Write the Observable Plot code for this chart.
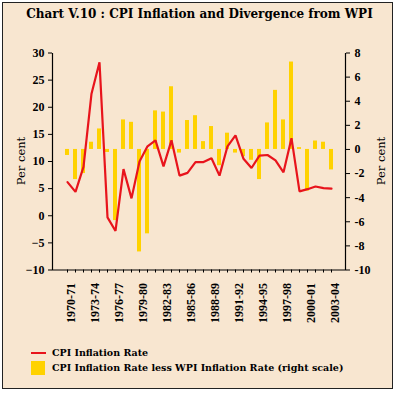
<!DOCTYPE html>
<html>
<head>
<meta charset="utf-8">
<script src="https://cdn.jsdelivr.net/npm/d3@7"></script>
<script src="https://cdn.jsdelivr.net/npm/@observablehq/plot@0.6"></script>
<style>
  html, body { margin: 0; padding: 0; background: #ffffff; }
  #wrap { position: relative; width: 395px; height: 394px; overflow: hidden; background: #ffffff; }
  #frame { position: absolute; left: 2px; top: 2px; width: 391px; height: 387px; border: 1px solid #222; background: #f8e6d0; box-sizing: border-box; }
  #title { position: absolute; left: 0; width: 399px; top: 7px; text-align: center; font-family: "DejaVu Serif"; font-weight: bold; font-size: 12px; color: #000; white-space: nowrap; }
  #chart { position: absolute; left: 0; top: 0; }
  .ylab { position: absolute; font-family: "DejaVu Serif"; font-size: 11.5px; color: #000; white-space: nowrap; transform: translate(-50%, -50%) rotate(-90deg); }
  .leg { position: absolute; font-family: "DejaVu Serif"; font-weight: bold; font-size: 9.5px; color: #000; white-space: nowrap; }
</style>
</head>
<body>
<div id="wrap">
  <div id="frame"></div>
  <div id="title">Chart V.10 : CPI Inflation and Divergence from WPI</div>
  <div id="chart"></div>
  <div class="ylab" style="left:21px; top:161px;">Per cent</div>
  <div class="ylab" style="left:381px; top:161px;">Per cent</div>
  <div id="legend"></div>
</div>
<script>
const years = ["1970-71","1971-72","1972-73","1973-74","1974-75","1975-76","1976-77","1977-78","1978-79","1979-80",
  "1980-81","1981-82","1982-83","1983-84","1984-85","1985-86","1986-87","1987-88","1988-89","1989-90",
  "1990-91","1991-92","1992-93","1993-94","1994-95","1995-96","1996-97","1997-98","1998-99","1999-00",
  "2000-01","2001-02","2002-03","2003-04"];
// CPI inflation rate (left scale, per cent)
const cpi = [6.2, 4.4, 9.0, 22.5, 28.3, -0.3, -2.8, 8.6, 3.2, 10.0,
  12.8, 13.9, 9.1, 13.9, 7.4, 7.9, 9.9, 9.9, 10.6, 7.4,
  12.8, 14.8, 10.5, 8.8, 11.1, 11.2, 10.2, 8.0, 14.3, 4.5,
  4.9, 5.4, 5.1, 5.0];
// CPI inflation less WPI inflation (right scale, per cent)
const diff = [-0.5, -2.5, -2.0, 0.6, 1.7, -0.25, -5.9, 2.45, 2.25, -8.5,
  -7.0, 3.2, 3.1, 5.2, -0.3, 2.4, 2.8, 0.65, 1.9, -1.35,
  1.35, -0.3, -0.6, -0.9, -2.5, 2.2, 4.9, 2.45, 7.25, 0.15,
  -3.45, 0.7, 0.6, -1.7];
const xLabels = ["1970-71","1973-74","1976-77","1979-80","1982-83","1985-86","1988-89","1991-92","1994-95","1997-98","2000-01","2003-04"];
const leftTicks = [-10, -5, 0, 5, 10, 15, 20, 25, 30];
const rightTicks = [-10, -8, -6, -4, -2, 0, 2, 4, 6, 8];
const leftDomain = [-10, 30];
const rightDomain = [-10, 8];

const seriesNames = ["CPI Inflation Rate", "CPI Inflation Rate less WPI Inflation Rate (right scale)"];
const colors = ["#e8141c", "#ffd200"];

// map right-scale values onto the left scale
const toLeft = r => leftDomain[0] + (r - rightDomain[0]) * (leftDomain[1] - leftDomain[0]) / (rightDomain[1] - rightDomain[0]);
const fromLeft = l => rightDomain[0] + (l - leftDomain[0]) * (rightDomain[1] - rightDomain[0]) / (leftDomain[1] - leftDomain[0]);

const rows = years.map((y, i) => ({year: y, cpi: cpi[i], diff: diff[i]}));

const W = 395, H = 340, mL = 52, mR = 50, mT = 52.5, mB = 70.5;
const fw = W - mL - mR, fh = H - mT - mB;

const plot = Plot.plot({
  width: W, height: H,
  marginLeft: mL, marginRight: mR, marginTop: mT, marginBottom: mB,
  style: {background: "transparent", fontFamily: "'Liberation Serif'", fontSize: "12px", fontWeight: "bold", color: "#000", overflow: "visible"},
  x: {type: "band", domain: years, padding: 0, axis: null},
  y: {domain: leftDomain, axis: null},
  marks: [
    Plot.barY(rows, {x: "year", y1: () => toLeft(0), y2: d => toLeft(d.diff), fill: colors[1], insetLeft: 2, insetRight: 2}),
    Plot.lineY(rows, {x: "year", y: "cpi", stroke: colors[0], strokeWidth: 2.2, strokeLinejoin: "miter"}),
    Plot.frame({stroke: "#000", strokeWidth: 1.2, strokeDasharray: `0 ${fw} ${fh * 2 + fw}`}),
    Plot.axisX({ticks: years, tickFormat: () => "", tickSize: 3, stroke: "#000", label: null}),
    Plot.axisX({ticks: xLabels, tickSize: 0, tickPadding: 13, tickRotate: -90, dx: 3.5, fontSize: 12, fontWeight: "bold", label: null}),
    Plot.axisY({anchor: "left", ticks: leftTicks, tickSize: 4, tickPadding: 4, fontSize: 12, fontWeight: "bold", label: null}),
    Plot.axisY({anchor: "right", ticks: rightTicks.map(toLeft), tickFormat: v => String(Math.round(fromLeft(v))), tickSize: 4, tickPadding: 5, fontSize: 12, fontWeight: "bold", label: null})
  ]
});
document.getElementById("chart").appendChild(plot);

// legend
const legend = document.getElementById("legend");
legend.innerHTML = `
  <div style="position:absolute; left:31px; top:352px; width:15px; height:2px; background:${colors[0]};"></div>
  <div class="leg" style="left:52px; top:347px;">${seriesNames[0]}</div>
  <div style="position:absolute; left:31px; top:361px; width:14px; height:14px; background:${colors[1]};"></div>
  <div class="leg" style="left:52px; top:362px;">${seriesNames[1]}</div>`;
</script>
</body>
</html>
